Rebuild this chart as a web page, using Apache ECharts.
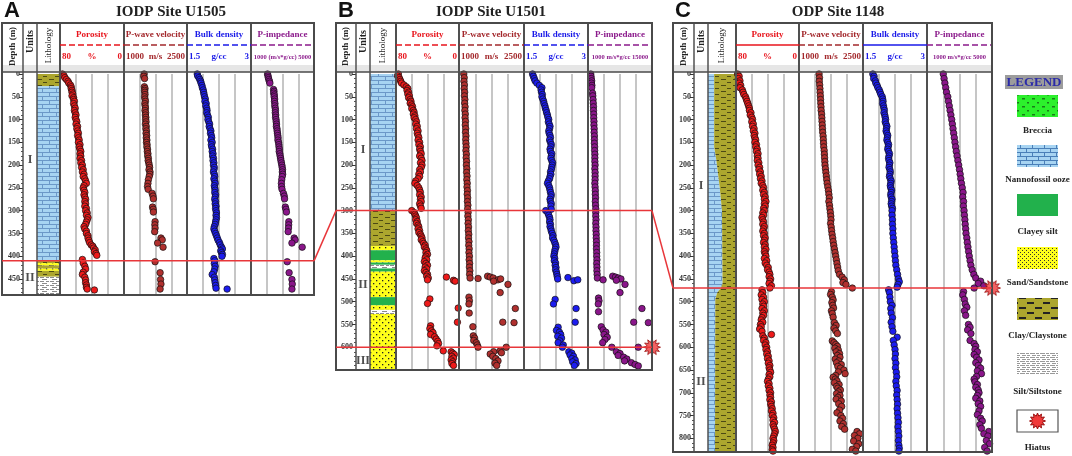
<!DOCTYPE html>
<html lang="en">
<head>
<meta charset="UTF-8">
<title>Physical properties of IODP Sites U1505, U1501 and ODP Site 1148</title>
<script src="https://cdn.jsdelivr.net/npm/echarts@6/dist/echarts.min.js"></script>
<style>html,body{margin:0;padding:0;background:#fff;}</style>
</head>
<body>
<div id="main" style="width:1072px;height:456px;"></div>
<script type="text/javascript">
// ---------- data, all pairs are [depth (m), value] ----------
// Site U1505
var porosityA = [[0,77],[4,75],[8,74],[12,72],[16,70],[20,69],[24,67],[28,66],[32,66],[36,65],[40,65],[44,64],[48,65],[52,63],[56,63],[60,62],[65,63],[70,62],[75,61],[80,62],[85,61],[90,60],[95,61],[100,60],[105,59],[110,60],[115,58],[120,59],[125,58],[130,57],[135,58],[140,57],[145,56],[150,57],[155,55],[160,56],[165,55],[170,54],[175,55],[180,54],[185,55],[190,53],[195,54],[200,52],[205,53],[210,51],[215,52],[220,50],[225,51],[230,49],[235,48],[240,47],[245,50],[250,51],[255,50],[260,49],[265,50],[270,49],[275,48],[280,49],[285,48],[290,49],[295,47],[300,48],[305,46],[310,47],[315,45],[320,46],[325,47],[330,48],[335,50],[340,49],[345,47],[350,47],[355,45],[360,45],[365,44],[370,43],[375,41],[378,39],[382,38],[386,36],[390,37],[394,35],[398,34],[407,52],[415,51],[422,49],[428,48],[435,51],[440,52],[446,49],[452,48],[458,48],[463,47],[468,47],[472,46],[474,37]];
var velocityA = [[0,1480],[5,1470],[10,1490],[28,1485],[32,1500],[36,1490],[40,1495],[45,1500],[50,1490],[55,1500],[60,1510],[65,1495],[70,1505],[75,1510],[80,1500],[85,1515],[90,1510],[95,1520],[100,1515],[105,1525],[110,1510],[115,1530],[120,1520],[125,1535],[130,1525],[135,1540],[140,1530],[145,1545],[150,1535],[155,1550],[160,1545],[165,1560],[170,1555],[175,1570],[180,1565],[185,1580],[190,1575],[195,1590],[200,1600],[205,1610],[210,1595],[215,1620],[220,1615],[225,1600],[232,1580],[240,1570],[247,1560],[253,1575],[262,1670],[268,1690],[274,1700],[292,1680],[297,1695],[303,1700],[324,1740],[331,1735],[338,1740],[346,1730],[360,1880],[364,1910],[371,1800],[380,1930],[412,1740],[436,1860],[451,1870],[461,1880],[472,1860]];
var densityA = [[0,1.74],[4,1.75],[8,1.78],[12,1.80],[16,1.82],[20,1.83],[25,1.85],[30,1.86],[35,1.88],[40,1.89],[45,1.90],[50,1.91],[55,1.93],[60,1.92],[65,1.95],[70,1.94],[75,1.96],[80,1.97],[85,1.96],[90,1.98],[95,2.00],[100,1.99],[105,2.01],[110,2.03],[115,2.02],[120,2.04],[125,2.06],[130,2.05],[135,2.07],[140,2.08],[145,2.06],[150,2.09],[155,2.07],[160,2.08],[165,2.10],[170,2.09],[175,2.11],[180,2.10],[185,2.12],[190,2.11],[195,2.13],[200,2.12],[205,2.14],[210,2.13],[215,2.12],[220,2.14],[225,2.15],[230,2.13],[235,2.15],[240,2.16],[245,2.14],[250,2.15],[255,2.16],[260,2.15],[265,2.17],[270,2.16],[275,2.15],[280,2.17],[285,2.16],[290,2.18],[295,2.17],[300,2.18],[305,2.19],[310,2.18],[315,2.19],[320,2.18],[325,2.17],[330,2.16],[335,2.14],[340,2.13],[345,2.15],[350,2.17],[355,2.19],[360,2.21],[365,2.23],[370,2.26],[375,2.28],[380,2.31],[384,2.33],[388,2.29],[392,2.31],[396,2.33],[400,2.32],[405,2.13],[410,2.15],[416,2.14],[422,2.16],[428,2.15],[434,2.13],[440,2.09],[446,2.14],[452,2.15],[458,2.16],[464,2.17],[470,2.18],[472,2.44]];
var impedanceA = [[0,2050],[4,2080],[8,2100],[12,2130],[16,2170],[20,2200],[34,2430],[38,2460],[42,2440],[46,2480],[50,2470],[55,2500],[60,2490],[65,2520],[70,2510],[75,2540],[80,2550],[85,2540],[90,2570],[95,2560],[100,2590],[105,2600],[110,2620],[115,2610],[120,2650],[125,2660],[130,2680],[135,2700],[140,2720],[145,2710],[150,2750],[155,2770],[160,2780],[165,2800],[170,2790],[175,2830],[180,2850],[185,2880],[190,2900],[195,2930],[200,2960],[205,2980],[210,3000],[215,2990],[220,3010],[225,2980],[232,2950],[240,2930],[247,2940],[253,2970],[262,3060],[268,3110],[274,3130],[292,3180],[297,3220],[303,3250],[324,3400],[331,3390],[338,3380],[346,3360],[360,3740],[364,3800],[371,3600],[380,4250],[412,3300],[436,3420],[451,3600],[461,3620],[472,3600]];
// Site U1501
var porosityB = [[0,77],[4,78],[8,76],[12,75],[16,74],[20,73],[24,70],[28,67],[32,65],[36,66],[40,64],[44,65],[48,63],[52,64],[56,62],[60,61],[64,62],[68,60],[72,59],[76,60],[80,58],[84,57],[88,58],[92,56],[96,57],[100,55],[105,54],[110,55],[115,53],[120,54],[125,52],[130,53],[135,52],[140,51],[145,52],[150,50],[155,51],[160,49],[165,50],[170,49],[175,48],[180,50],[185,48],[190,47],[195,49],[200,47],[205,48],[210,50],[215,49],[220,51],[225,50],[230,52],[235,55],[240,56],[245,53],[250,51],[255,50],[260,49],[265,50],[270,48],[275,49],[280,48],[285,50],[290,49],[295,48],[300,60],[304,57],[308,56],[312,55],[316,54],[320,55],[324,53],[328,54],[332,52],[336,51],[340,52],[344,50],[348,51],[352,49],[356,48],[360,47],[364,48],[368,46],[372,45],[376,43],[380,44],[384,42],[388,41],[392,42],[396,40],[400,42],[404,43],[408,41],[412,44],[416,42],[420,40],[424,43],[428,41],[432,44],[436,42],[440,40],[444,41],[448,39],[452,40],[446,16],[453,7],[455,5],[494,37],[504,40],[514,1],[545,2],[553,36],[559,37],[564,35],[568,33],[572,36],[577,31],[582,29],[587,27],[592,26],[597,28],[608,20],[610,10],[613,8],[616,6],[620,9],[624,7],[628,10],[632,8],[636,9],[640,7]];
var velocityB = [[0,1110],[8,1120],[16,1115],[24,1125],[32,1120],[40,1130],[48,1125],[56,1135],[64,1130],[72,1140],[80,1135],[88,1145],[96,1140],[104,1150],[112,1145],[120,1155],[128,1150],[136,1160],[144,1155],[152,1160],[160,1165],[168,1160],[176,1170],[184,1165],[192,1175],[200,1170],[208,1180],[216,1175],[224,1185],[232,1180],[240,1190],[248,1185],[256,1195],[264,1190],[272,1200],[280,1195],[288,1205],[296,1200],[304,1210],[312,1205],[320,1215],[328,1210],[336,1220],[344,1215],[352,1225],[360,1220],[368,1230],[376,1225],[384,1235],[392,1230],[400,1240],[408,1235],[416,1245],[424,1240],[432,1250],[440,1245],[448,1255],[449,1440],[444,1660],[446,1720],[448,1790],[452,1900],[450,1960],[455,1800],[462,2130],[480,1950],[490,1230],[498,1240],[505,1230],[515,2300],[525,1235],[545,2010],[546,2270],[555,1320],[575,1330],[580,1360],[585,1340],[590,1400],[595,1420],[600,1440],[600,2090],[610,1800],[615,1720],[620,1780],[625,1850],[630,1900],[635,1830],[640,1870],[608,1950],[612,1980]];
var densityB = [[0,1.70],[5,1.72],[10,1.74],[15,1.76],[20,1.80],[25,1.86],[30,1.92],[35,1.90],[40,1.91],[45,1.93],[50,1.92],[55,1.94],[60,1.96],[65,1.97],[70,1.99],[75,2.00],[80,2.02],[85,2.03],[90,2.05],[95,2.06],[100,2.08],[105,2.07],[110,2.09],[115,2.11],[120,2.10],[125,2.08],[130,2.09],[135,2.11],[140,2.12],[145,2.10],[150,2.12],[155,2.14],[160,2.13],[165,2.11],[170,2.12],[175,2.15],[180,2.14],[185,2.13],[190,2.15],[195,2.17],[200,2.16],[205,2.15],[210,2.14],[215,2.12],[220,2.13],[225,2.11],[230,2.10],[235,2.07],[240,2.05],[245,2.08],[250,2.10],[255,2.11],[260,2.12],[265,2.14],[270,2.13],[275,2.11],[280,2.12],[285,2.14],[290,2.13],[297,2.14],[300,2.01],[305,2.06],[310,2.08],[315,2.10],[320,2.11],[325,2.10],[330,2.12],[335,2.11],[340,2.13],[345,2.14],[350,2.16],[355,2.18],[360,2.17],[365,2.20],[370,2.22],[375,2.24],[380,2.25],[385,2.23],[390,2.22],[395,2.21],[400,2.20],[405,2.22],[410,2.21],[415,2.24],[420,2.23],[425,2.25],[430,2.24],[435,2.26],[440,2.27],[445,2.28],[450,2.29],[447,2.53],[454,2.67],[452,2.76],[495,2.23],[505,2.19],[515,2.72],[545,2.70],[556,2.30],[563,2.26],[567,2.33],[572,2.36],[576,2.29],[580,2.38],[586,2.34],[590,2.30],[595,2.42],[600,2.40],[610,2.55],[613,2.62],[617,2.58],[620,2.66],[625,2.62],[628,2.70],[632,2.64],[636,2.72],[640,2.68]];
var impedanceB = [[0,1600],[5,1650],[10,1700],[15,1800],[20,1750],[25,1850],[30,1800],[42,2000],[48,2050],[56,2100],[64,2150],[72,2200],[80,2200],[88,2250],[96,2250],[104,2300],[112,2300],[120,2350],[128,2350],[136,2400],[144,2400],[152,2400],[160,2450],[168,2450],[176,2500],[184,2500],[192,2500],[200,2550],[208,2500],[216,2550],[224,2550],[232,2550],[240,2500],[248,2550],[256,2600],[264,2600],[272,2650],[280,2600],[288,2650],[296,2700],[304,2700],[312,2700],[320,2750],[328,2700],[336,2750],[344,2750],[352,2800],[360,2800],[368,2850],[376,2850],[384,2850],[392,2900],[400,2900],[408,2950],[416,2900],[424,2950],[432,2950],[440,3000],[448,3050],[452,4300],[444,6400],[446,7000],[448,7600],[450,8200],[453,7200],[462,9100],[480,8000],[492,3300],[498,3400],[505,3250],[515,12800],[522,3300],[545,11000],[546,14200],[555,3900],[562,4300],[567,4900],[572,4500],[578,5200],[583,4700],[590,4200],[600,6200],[600,12000],[610,7200],[614,8000],[618,7600],[622,8800],[626,9500],[630,9000],[634,10500],[638,11300],[641,12000]];
// Site 1148
var porosityC = [[0,78],[5,76],[10,77],[15,75],[20,76],[25,74],[30,75],[35,72],[40,71],[45,70],[50,68],[55,67],[60,66],[65,65],[70,64],[75,63],[80,63],[85,61],[90,62],[95,60],[100,59],[105,60],[110,58],[115,59],[120,57],[125,58],[130,56],[135,57],[140,56],[145,55],[150,56],[155,54],[160,55],[165,53],[170,54],[175,52],[180,53],[185,52],[190,53],[195,51],[200,52],[205,50],[210,51],[215,49],[220,50],[225,48],[230,49],[235,47],[240,48],[245,46],[250,45],[255,46],[260,44],[265,45],[270,43],[275,44],[280,42],[285,44],[290,43],[295,45],[300,44],[305,46],[310,45],[315,47],[320,46],[325,45],[330,46],[335,44],[340,45],[345,46],[350,44],[355,45],[360,43],[365,44],[370,45],[375,43],[380,44],[385,42],[390,44],[395,43],[400,42],[405,44],[410,41],[415,43],[420,41],[425,39],[430,40],[435,38],[440,37],[445,38],[450,36],[455,37],[460,38],[465,35],[470,37],[474,47],[480,46],[485,48],[490,45],[495,47],[500,44],[505,46],[510,45],[515,47],[520,44],[525,46],[530,45],[535,47],[540,48],[545,46],[550,49],[555,48],[560,50],[565,47],[572,35],[575,46],[580,44],[585,45],[590,42],[595,43],[600,41],[605,42],[610,40],[615,41],[620,39],[625,40],[630,38],[635,39],[640,37],[645,38],[650,37],[655,36],[660,38],[665,37],[670,39],[675,40],[680,38],[685,39],[690,37],[695,38],[700,36],[705,37],[710,36],[715,37],[720,35],[725,36],[730,35],[735,34],[740,35],[745,33],[750,34],[755,32],[760,33],[765,31],[770,33],[775,32],[780,31],[785,30],[790,31],[795,32],[800,33],[805,32],[810,33],[815,34],[820,33],[825,34],[828,33]];
var velocityC = [[0,1470],[8,1480],[16,1475],[24,1485],[32,1490],[40,1495],[48,1500],[56,1505],[64,1510],[72,1515],[80,1520],[88,1530],[96,1535],[104,1540],[112,1545],[120,1550],[128,1555],[136,1565],[144,1570],[152,1575],[160,1580],[168,1590],[176,1595],[184,1600],[192,1605],[200,1610],[208,1620],[216,1630],[224,1640],[232,1650],[240,1660],[248,1675],[256,1690],[264,1700],[272,1710],[280,1700],[288,1715],[296,1725],[304,1735],[312,1745],[320,1750],[328,1740],[336,1755],[344,1765],[352,1775],[360,1790],[368,1800],[376,1815],[384,1830],[392,1845],[400,1860],[408,1875],[416,1890],[424,1905],[432,1920],[440,1950],[446,2010],[452,2060],[458,2030],[462,2100],[470,2250],[478,1760],[484,1740],[490,1780],[496,1800],[502,1770],[508,1790],[514,1810],[520,1760],[526,1780],[534,1800],[546,1830],[552,1870],[558,1820],[564,1860],[570,1900],[586,1780],[590,1820],[594,1860],[598,1900],[602,1840],[606,1920],[610,1870],[614,1950],[618,1900],[622,1960],[626,1850],[630,1930],[634,1880],[638,1990],[642,1910],[646,1970],[650,2050],[654,1920],[658,2080],[662,1860],[666,1800],[670,1850],[674,1890],[678,1830],[682,1940],[686,1880],[690,1910],[694,1970],[698,1920],[702,1880],[706,1960],[710,1910],[714,1870],[718,1990],[724,1930],[730,2000],[738,1950],[744,1890],[750,1980],[756,2020],[762,1960],[768,2040],[774,2000],[780,2070],[785,2360],[790,2420],[794,2300],[800,2380],[806,2280],[812,2400],[818,2350],[824,2250],[828,2330]];
var densityC = [[0,1.73],[5,1.76],[10,1.75],[15,1.79],[20,1.80],[25,1.83],[30,1.85],[35,1.88],[40,1.90],[45,1.92],[50,1.95],[55,1.96],[60,1.97],[65,1.96],[70,1.98],[75,1.99],[80,2.00],[85,1.99],[90,2.01],[95,2.02],[100,2.03],[105,2.02],[110,2.04],[115,2.06],[120,2.05],[125,2.04],[130,2.06],[135,2.08],[140,2.07],[145,2.06],[150,2.08],[155,2.10],[160,2.09],[165,2.08],[170,2.10],[175,2.12],[180,2.11],[185,2.10],[190,2.11],[195,2.13],[200,2.12],[205,2.11],[210,2.13],[215,2.14],[220,2.13],[225,2.12],[230,2.14],[235,2.16],[240,2.15],[245,2.14],[250,2.15],[255,2.17],[260,2.16],[265,2.15],[270,2.16],[275,2.18],[280,2.17],[285,2.16],[290,2.17],[295,2.19],[300,2.18],[310,2.18],[320,2.19],[330,2.19],[340,2.20],[350,2.20],[360,2.21],[370,2.22],[380,2.23],[390,2.24],[400,2.25],[410,2.26],[420,2.27],[430,2.29],[440,2.31],[450,2.33],[456,2.35],[462,2.32],[468,2.30],[474,2.10],[480,2.12],[490,2.13],[500,2.14],[508,2.18],[515,2.15],[525,2.16],[535,2.19],[545,2.16],[555,2.18],[565,2.20],[578,2.30],[585,2.21],[595,2.23],[605,2.25],[615,2.26],[625,2.25],[635,2.27],[645,2.26],[655,2.28],[665,2.29],[675,2.27],[685,2.28],[695,2.30],[705,2.29],[715,2.30],[725,2.31],[735,2.30],[745,2.31],[755,2.32],[765,2.33],[775,2.32],[785,2.33],[795,2.34],[805,2.33],[815,2.34],[822,2.35],[828,2.34]];
var impedanceC = [[0,2000],[10,2050],[20,2100],[30,2150],[40,2200],[50,2280],[60,2320],[70,2370],[80,2420],[90,2470],[100,2520],[110,2560],[120,2600],[130,2640],[140,2680],[150,2720],[160,2760],[170,2800],[180,2850],[190,2900],[200,2950],[210,3000],[220,3040],[230,3080],[240,3120],[250,3170],[260,3220],[270,3200],[280,3250],[290,3240],[300,3280],[310,3300],[320,3330],[330,3350],[340,3380],[350,3400],[360,3450],[370,3480],[380,3520],[390,3560],[400,3600],[410,3650],[420,3700],[430,3780],[440,3880],[448,4000],[455,4300],[460,4150],[465,4500],[470,3900],[478,3250],[485,3200],[495,3300],[505,3350],[512,3450],[520,3300],[530,3380],[550,3550],[556,3650],[562,3500],[570,3700],[585,3650],[592,3900],[598,4000],[605,3950],[610,4100],[616,3900],[622,4050],[628,4200],[634,4000],[640,4150],[646,4300],[652,4100],[658,4350],[664,4050],[670,3900],[676,3950],[682,4100],[688,4000],[694,4150],[700,4200],[706,4100],[712,4000],[718,4250],[724,4150],[730,4300],[740,4200],[748,4100],[756,4300],[762,4400],[770,4250],[778,4350],[785,4800],[790,4500],[795,4750],[805,4650],[812,4850],[820,4550],[828,4700]];

// lithology intervals [top, base, type]
var lithA = [[0,27,'clay'],[27,410,'ooze'],[410,415,'clay'],[415,420,'sand'],[420,427,'clay'],[427,432,'sand'],[432,445,'clay'],[445,485,'silt']];
var lithB = [[0,300,'ooze'],[300,378,'clay'],[378,387,'sand'],[387,409,'csilt'],[409,414,'sand'],[414,419,'csilt'],[419,427,'silt'],[427,434,'csilt'],[434,490,'sand'],[490,508,'csilt'],[508,518,'sand'],[518,527,'silt'],[527,650,'sand']];
// Site 1148: ooze / clay boundary across the column [depth, fraction of column width]
var boundaryC = [[0,0.22],[160,0.22],[190,0.3],[250,0.42],[300,0.5],[460,0.52],[470,0.46],[480,0.33],[495,0.26],[830,0.25]];

var unitsA = [['I',189],['II',448]];
var unitsB = [['I',167],['II',464],['III',631]];
var unitsC = [['I',245],['II',677]];
var horizonsA = [410], horizonsB = [300, 600], horizonsC = [470];
var hiatusB = [600], hiatusC = [470];
var links = [[0, 410, 1, 300], [1, 300, 2, 470]];

// track headers: name, left label, unit, right label
var headsA = [['Porosity','80','%','0'],['P-wave velocity','1000','m/s','2500'],['Bulk density','1.5','g/cc','3'],['P-impedance','1000 (m/s*g/cc) 5000','','']];
var headsB = [['Porosity','80','%','0'],['P-wave velocity','1000','m/s','2500'],['Bulk density','1.5','g/cc','3'],['P-impedance','1000 m/s*g/cc 15000','','']];
var headsC = [['Porosity','80','%','0'],['P-wave velocity','1000','m/s','2500'],['Bulk density','1.5','g/cc','3'],['P-impedance','1000 m/s*g/cc 5000','','']];
var legendItems = [['Breccia','breccia'],['Nannofossil ooze','ooze'],['Clayey silt','csilt'],['Sand/Sandstone','sand'],['Clay/Claystone','clay'],['Silt/Siltstone','silt'],['Hiatus','hiatus']];

// ---------- styles / layout ----------
var SERIF = '"Liberation Serif","DejaVu Serif",serif';
var headColors = ['#e8141c', '#a3282c', '#1a1ae8', '#8b1a8b'];
var dotColors = ['#ee1a1a', '#b0302e', '#1c1cf0', '#8a168a'];
var TOP = 23, HDR = 72, DTOP = 74;

var panels = [
  {letter:'A', title:'IODP Site U1505', titleX:171, cols:[2,23,37,60,124,187,251,314], bottom:295, maxDepth:485, impMax:5000, sym:6.5,
    data:[porosityA, velocityA, densityA, impedanceA], heads:headsA, lith:lithA, units:unitsA, hiatus:[], horizons:horizonsA, solid:[]},
  {letter:'B', title:'IODP Site U1501', titleX:491, cols:[336,356,370,396,459,524,588,652], bottom:370, maxDepth:650, impMax:15000, sym:6.5,
    data:[porosityB, velocityB, densityB, impedanceB], heads:headsB, lith:lithB, units:unitsB, hiatus:hiatusB, horizons:horizonsB, solid:[]},
  {letter:'C', title:'ODP Site 1148', titleX:838, cols:[673,694,708,736,799,863,927,992], bottom:452, maxDepth:830, impMax:5000, sym:6.5,
    data:[porosityC, velocityC, densityC, impedanceC], heads:headsC, mix:boundaryC, units:unitsC, hiatus:hiatusC, horizons:horizonsC, solid:[0, 2]}
];

function pat(w, h, bg, draw) {
  var cv = document.createElement('canvas');
  cv.width = w; cv.height = h;
  var g = cv.getContext('2d');
  g.fillStyle = bg; g.fillRect(0, 0, w, h);
  if (draw) draw(g);
  return {image: cv, repeat: 'repeat'};
}
function brick(w, h, line) {
  return function (g) {
    g.strokeStyle = line; g.lineWidth = 1; g.beginPath();
    g.moveTo(0, 0.5); g.lineTo(w, 0.5); g.moveTo(0, h / 2 + 0.5); g.lineTo(w, h / 2 + 0.5);
    g.moveTo(0.5, 0); g.lineTo(0.5, h / 2); g.moveTo(w / 2 + 0.5, h / 2); g.lineTo(w / 2 + 0.5, h);
    g.stroke();
  };
}
var fills = {
  ooze: pat(14, 8, '#a7d4f2', brick(14, 8, '#6b98c8')),
  clay: pat(12, 6, '#aca62e', function (g) { g.fillStyle = '#4c4914'; g.fillRect(1, 1, 5, 1); g.fillRect(7, 4, 4, 1); }),
  sand: pat(6, 6, '#ffff1a', function (g) { g.fillStyle = '#222'; g.fillRect(1, 1, 1.3, 1.3); g.fillRect(4, 4, 1.3, 1.3); }),
  csilt: pat(4, 4, '#22b14c'),
  silt: pat(10, 4, '#ffffff', function (g) { g.fillStyle = '#8c8c8c'; g.fillRect(0, 1, 4, 1); g.fillRect(6, 1, 3, 1); g.fillRect(2, 3, 5, 1); })
};
var legendFills = {
  breccia: pat(10, 8, '#2cf02c', function (g) { g.fillStyle = '#1a7a1a'; g.fillRect(2, 2, 3, 1.5); g.fillRect(7, 6, 2, 1.5); }),
  ooze: pat(12, 8, '#a7d4f2', brick(12, 8, '#4a7fb8')),
  csilt: pat(4, 4, '#22b14c'),
  sand: pat(4, 4, '#ffff1a', function (g) { g.fillStyle = '#333'; g.fillRect(0, 0, 1, 1); g.fillRect(2, 2, 1, 1); }),
  clay: pat(16, 10, '#aca62e', function (g) { g.fillStyle = '#222'; g.fillRect(3, 2, 7, 2); g.fillRect(11, 7, 5, 2); g.fillRect(0, 7, 2, 2); }),
  silt: pat(10, 4, '#ffffff', function (g) { g.fillStyle = '#999'; g.fillRect(0, 1, 5, 1); g.fillRect(6, 1, 3, 1); g.fillRect(2, 3, 4, 1); g.fillRect(7, 3, 3, 1); })
};

function starPoints(cx, cy, ro, ri, n) {
  var pts = [];
  for (var i = 0; i < 2 * n; i++) {
    var r = i % 2 ? ri : ro, a = Math.PI * i / n;
    pts.push([cx + r * Math.sin(a), cy - r * Math.cos(a)]);
  }
  return pts;
}
var starSymbol = 'path://' + starPoints(10, 10, 10, 6, 12).map(function (p, i) {
  return (i ? 'L' : 'M') + p[0].toFixed(2) + ' ' + p[1].toFixed(2);
}).join(' ') + 'Z';

var grids = [], xAxes = [], yAxes = [], series = [], graphics = [];

function depthAxis(gi, p, visible) {
  var ax = {gridIndex: gi, type: 'value', inverse: true, min: 0, max: p.maxDepth, show: visible};
  if (visible) {
    ax.interval = 50;
    ax.position = 'left';
    ax.axisLine = {show: false};
    ax.axisTick = {show: true, length: 4, lineStyle: {color: '#333'}};
    ax.minorTick = {show: true, splitNumber: 5, length: 2, lineStyle: {color: '#555'}};
    ax.splitLine = {show: false};
    ax.axisLabel = {fontSize: 8, fontWeight: 'bold', fontFamily: SERIF, color: '#333', margin: 3, showMaxLabel: false};
  }
  yAxes.push(ax);
  return yAxes.length - 1;
}

panels.forEach(function (p) {
  var c = p.cols, h = p.bottom - DTOP, gi;

  // units column, carries the depth axis
  gi = grids.length;
  grids.push({left: c[1], top: DTOP, width: c[2] - c[1], height: h});
  xAxes.push({gridIndex: gi, type: 'value', min: 0, max: 1, show: false});
  p.depthAxis = depthAxis(gi, p, true);
  series.push({
    type: 'scatter', xAxisIndex: xAxes.length - 1, yAxisIndex: p.depthAxis, symbolSize: 1, silent: true,
    itemStyle: {color: 'rgba(0,0,0,0)'},
    data: p.units.map(function (u) { return {name: u[0], value: [0.5, u[1]]}; }),
    label: {show: true, position: 'inside', formatter: '{b}', fontSize: 12, fontWeight: 'bold', fontFamily: SERIF, color: '#222'}
  });

  // lithology column
  gi = grids.length;
  grids.push({left: c[2], top: DTOP, width: c[3] - c[2], height: h});
  xAxes.push({gridIndex: gi, type: 'value', min: 0, max: 1, show: false});
  var ly = depthAxis(gi, p, false);
  if (p.lith) {
    series.push({
      type: 'custom', xAxisIndex: xAxes.length - 1, yAxisIndex: ly, silent: true,
      data: p.lith.map(function (l) { return [l[0], l[1]]; }),
      renderItem: function (params, api) {
        var a = api.coord([0, api.value(0)]), b = api.coord([1, api.value(1)]);
        return {type: 'rect', shape: {x: a[0], y: a[1], width: b[0] - a[0], height: b[1] - a[1]},
          style: {fill: fills[p.lith[params.dataIndex][2]]}};
      }
    });
  } else {
    series.push({
      type: 'custom', xAxisIndex: xAxes.length - 1, yAxisIndex: ly, silent: true, data: [[0]],
      renderItem: function (params, api) {
        var left = [api.coord([0, 0])], right = [api.coord([1, 0])];
        p.mix.forEach(function (b) { var q = api.coord([b[1], b[0]]); left.push(q); right.push(q); });
        left.push(api.coord([0, p.maxDepth]));
        right.push(api.coord([1, p.maxDepth]));
        return {type: 'group', children: [
          {type: 'polygon', shape: {points: left}, style: {fill: fills.ooze}},
          {type: 'polygon', shape: {points: right}, style: {fill: fills.clay}}
        ]};
      }
    });
  }

  // four log tracks
  var ranges = [[0, 80, true], [1000, 2500, false], [1.5, 3, false], [1000, p.impMax, false]];
  for (var k = 0; k < 4; k++) {
    gi = grids.length;
    grids.push({left: c[3 + k], top: DTOP, width: c[4 + k] - c[3 + k], height: h});
    xAxes.push({gridIndex: gi, type: 'value', min: ranges[k][0], max: ranges[k][1], inverse: ranges[k][2], show: false});
    var xi = xAxes.length - 1;
    xAxes.push({gridIndex: gi, type: 'value', min: 0, max: 4, interval: 1, position: 'top',
      axisLine: {show: false}, axisTick: {show: false}, axisLabel: {show: false},
      splitLine: {show: true, lineStyle: {color: '#c6c6c6', width: 2}}});
    var yi = depthAxis(gi, p, false);
    series.push({
      type: 'scatter', xAxisIndex: xi, yAxisIndex: yi, symbolSize: p.sym, silent: true,
      itemStyle: {color: dotColors[k], borderColor: '#111', borderWidth: 0.7, opacity: 1},
      data: p.data[k].map(function (d) { return [d[1], d[0]]; })
    });
    if (k === 3 && p.hiatus.length) {
      series.push({
        type: 'scatter', xAxisIndex: xi, yAxisIndex: yi, symbol: starSymbol, symbolSize: 17, clip: false, silent: true, z: 20,
        itemStyle: {color: '#f03a3a', borderColor: '#9a1010', borderWidth: 1},
        data: p.hiatus.map(function (d) { return [p.impMax, d]; })
      });
    }
  }
});

var chart = echarts.init(document.getElementById('main'));
chart.setOption({animation: false, backgroundColor: '#ffffff', grid: grids, xAxis: xAxes, yAxis: yAxes, series: series});

// ---------- frames, headers, legend ----------
function txt(x, y, s, font, fill, align, rot) {
  graphics.push({type: 'text', x: x, y: y, rotation: rot || 0, z: 60, silent: true,
    style: {text: s, font: font, fill: fill, align: align || 'center', verticalAlign: 'middle'}});
}
function line(x1, y1, x2, y2, stroke, w, dash, z) {
  graphics.push({type: 'line', z: z || 50, silent: true, shape: {x1: x1, y1: y1, x2: x2, y2: y2},
    style: {stroke: stroke, lineWidth: w, lineDash: dash || null}});
}

panels.forEach(function (p) {
  var c = p.cols, L = c[0], R = c[7];
  graphics.push({type: 'rect', z: 1, silent: true, shape: {x: L, y: 65, width: R - L, height: 7}, style: {fill: '#e6e6e6'}});
  graphics.push({type: 'rect', z: 55, silent: true, shape: {x: L, y: TOP, width: R - L, height: p.bottom - TOP},
    style: {fill: 'none', stroke: '#4a4a4a', lineWidth: 2}});
  line(L, HDR, R, HDR, '#4a4a4a', 1.5);
  for (var i = 1; i < 7; i++) line(c[i], TOP, c[i], p.bottom, '#505050', i < 3 ? 1.5 : 2);

  txt(c[0] + 2, 11, p.letter, 'bold 22px "Liberation Sans",Arial,sans-serif', '#111', 'left');
  txt(p.titleX, 12, p.title, 'bold 15px ' + SERIF, '#222');
  txt((c[0] + c[1]) / 2, (TOP + HDR) / 2 - 1, 'Depth (m)', 'bold 9px ' + SERIF, '#222', 'center', Math.PI / 2);
  txt((c[1] + c[2]) / 2, (TOP + HDR) / 2 - 6, 'Units', 'bold 10px ' + SERIF, '#222', 'center', Math.PI / 2);
  txt((c[2] + c[3]) / 2, (TOP + HDR) / 2 - 2, 'Lithology', '9px ' + SERIF, '#222', 'center', Math.PI / 2);

  for (var k = 0; k < 4; k++) {
    var a = c[3 + k], b = c[4 + k], hd = p.heads[k], col = headColors[k];
    txt((a + b) / 2, 35, hd[0], 'bold 9px ' + SERIF, col);
    line(a, 45, b, 45, col, 1.5, p.solid.indexOf(k) >= 0 ? null : [6, 3], 52);
    if (hd[2]) {
      txt(a + 2, 57, hd[1], 'bold 9px ' + SERIF, col, 'left');
      txt((a + b) / 2, 57, hd[2], 'bold 9px ' + SERIF, col);
      txt(b - 2, 57, hd[3], 'bold 9px ' + SERIF, col, 'right');
    } else {
      txt((a + b) / 2, 57, hd[1], 'bold 6.5px ' + SERIF, col);
    }
  }
});

// horizon lines and the links between sites
function depthPx(pi, d) { return chart.convertToPixel({yAxisIndex: panels[pi].depthAxis}, d); }
panels.forEach(function (p, pi) {
  p.horizons.forEach(function (d) {
    var y = depthPx(pi, d);
    line(p.cols[0], y, p.cols[7], y, '#e8363a', 1.5, null, 70);
  });
});
links.forEach(function (l) {
  line(panels[l[0]].cols[7], depthPx(l[0], l[1]), panels[l[2]].cols[0], depthPx(l[2], l[3]), '#e8363a', 1.5, null, 70);
});

// legend
var LX = 1017, LW = 41, LH = 22;
var boxY = [95, 145, 194, 247, 298, 353, 410], labY = [131, 180, 232, 283, 336, 392, 448];
graphics.push({type: 'rect', z: 55, silent: true, shape: {x: 1005, y: 75, width: 58, height: 14}, style: {fill: '#9c9c9c'}});
txt(1034, 82.5, 'LEGEND', 'bold 13px ' + SERIF, '#2b2ba8');
legendItems.forEach(function (it, i) {
  if (it[1] === 'hiatus') {
    graphics.push({type: 'rect', z: 55, silent: true, shape: {x: LX, y: boxY[i], width: LW, height: LH},
      style: {fill: '#fff', stroke: '#555', lineWidth: 1.2}});
    graphics.push({type: 'polygon', z: 56, silent: true, shape: {points: starPoints(LX + LW / 2, boxY[i] + LH / 2, 8, 5, 12)},
      style: {fill: '#f03a3a', stroke: '#9a1010', lineWidth: 1}});
  } else {
    graphics.push({type: 'rect', z: 55, silent: true, shape: {x: LX, y: boxY[i], width: LW, height: LH},
      style: {fill: legendFills[it[1]]}});
  }
  txt(LX + LW / 2, labY[i], it[0], 'bold 9px ' + SERIF, '#222');
});

chart.setOption({graphic: {elements: graphics}});
</script>
</body>
</html>
